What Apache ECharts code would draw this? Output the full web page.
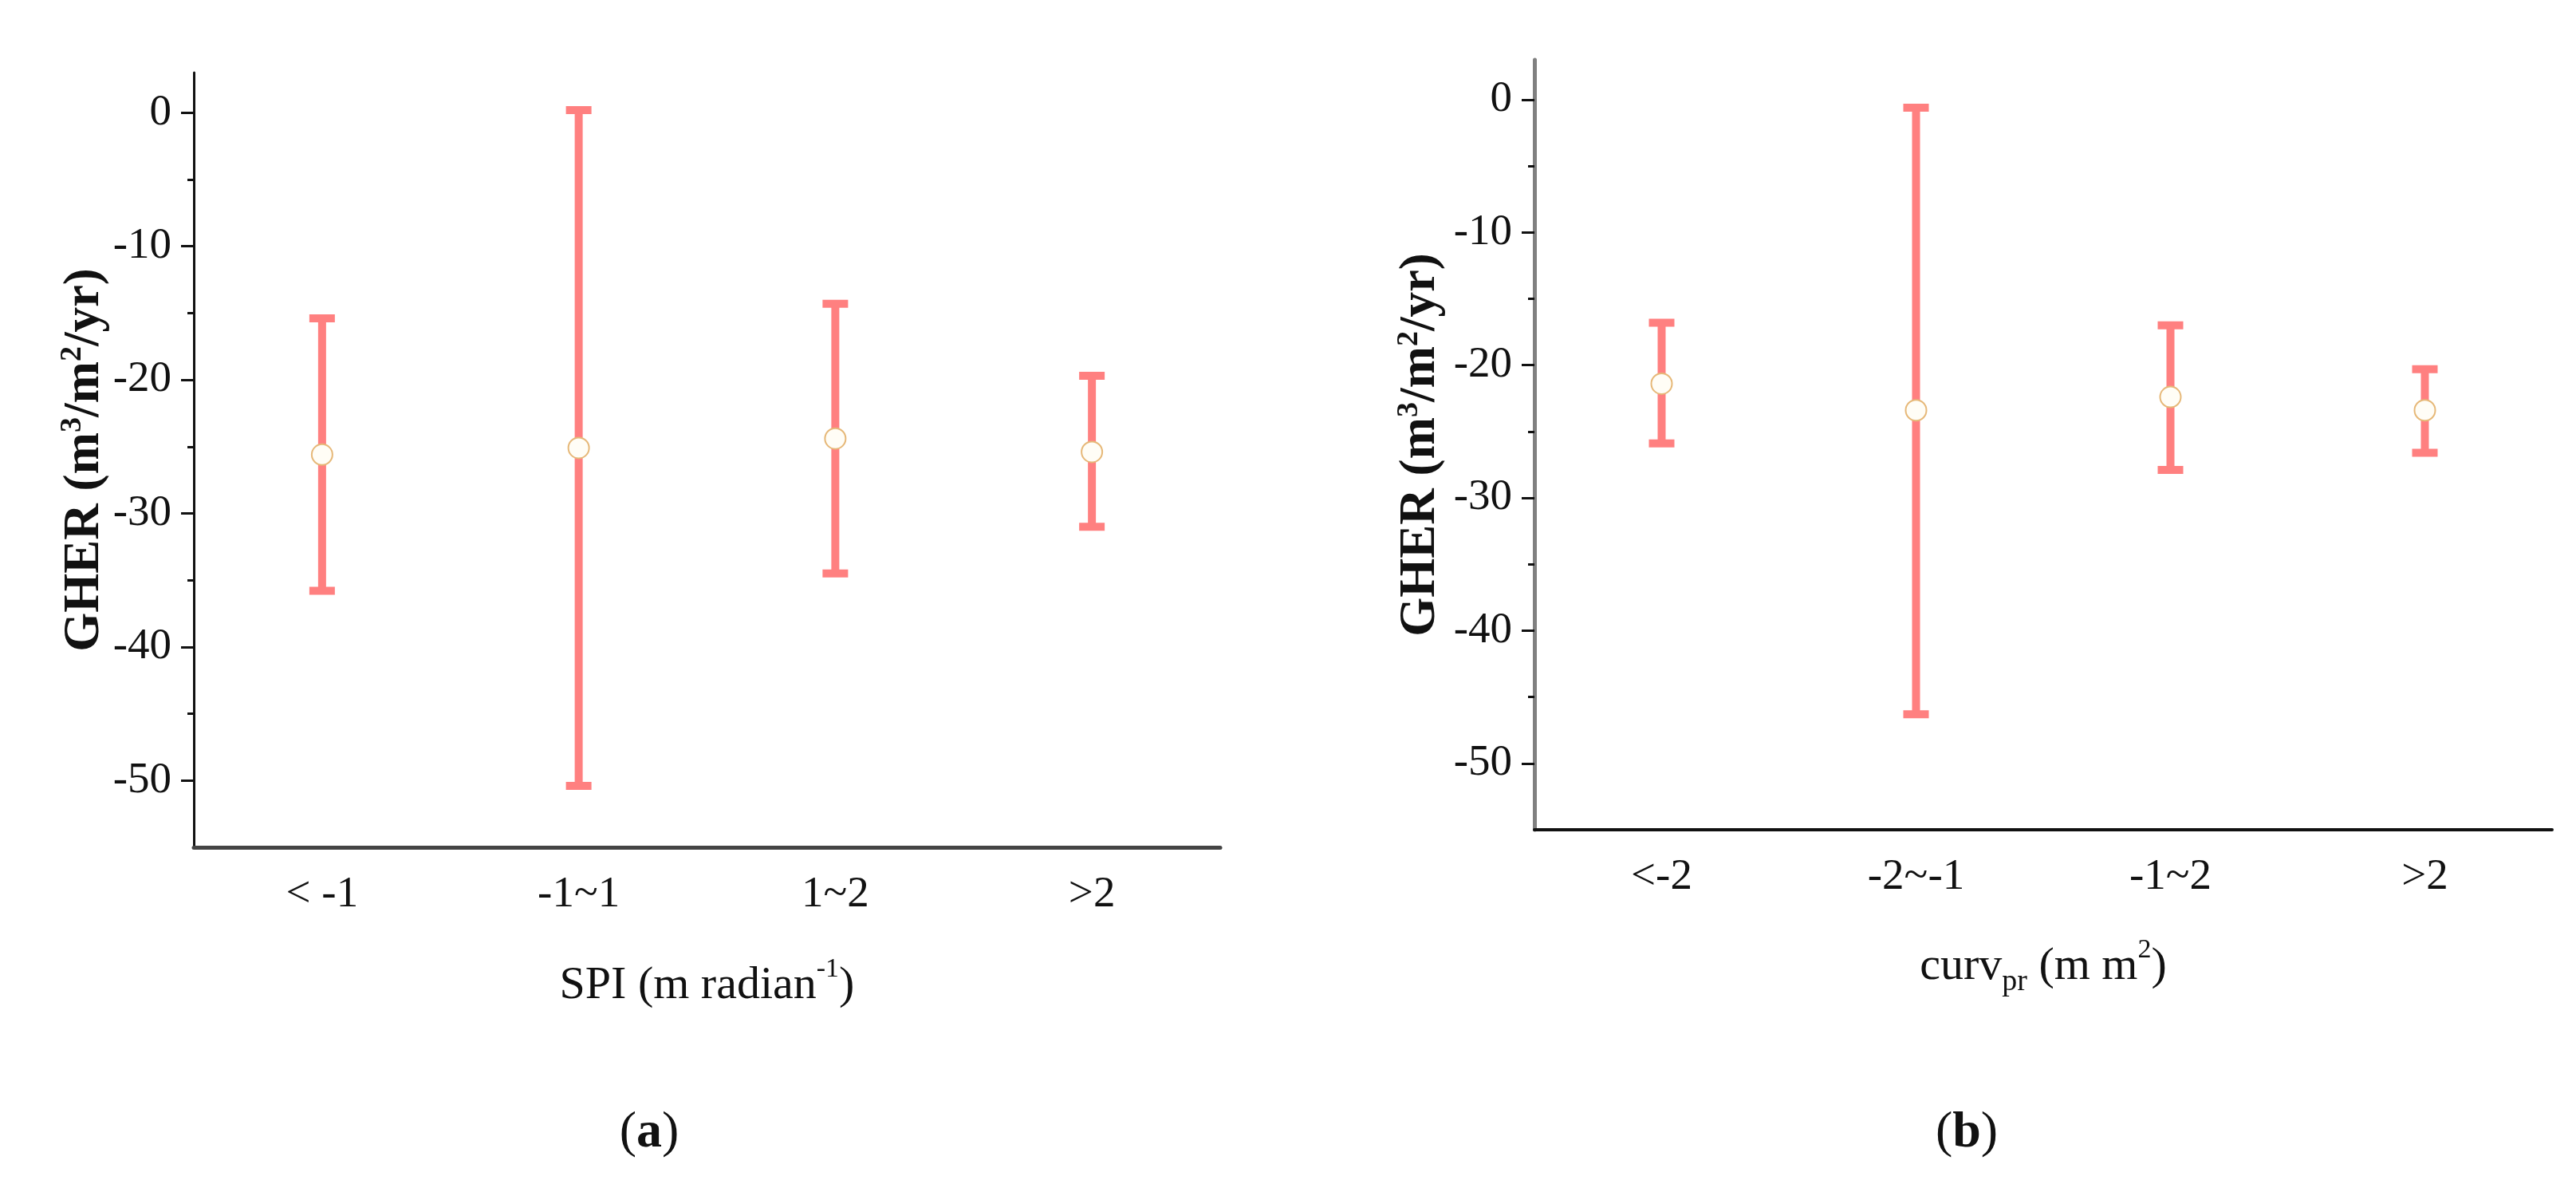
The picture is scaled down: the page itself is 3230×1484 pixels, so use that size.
<!DOCTYPE html>
<html>
<head>
<meta charset="utf-8">
<title>GHER by SPI and curvature class</title>
<script src="https://cdn.jsdelivr.net/npm/echarts@6/dist/echarts.min.js"></script>
<style>
    html, body { margin: 0; padding: 0; background: #fff; }
    #chart { width: 3230px; height: 1484px; }
</style>
</head>
<body>
<div id="chart"></div>
<script>
// panel (a): SPI classes
let spi_cats = ['< -1', '-1~1', '1~2', '>2']
let spi_mean = [-25.6, -25.1, -24.4, -25.4]
let spi_upper = [-15.4, 0.2, -14.3, -19.7]
let spi_lower = [-35.8, -50.4, -34.5, -31.0]

// panel (b): profile curvature classes
let curv_cats = ['<-2', '-2~-1', '-1~2', '>2']
let curv_mean = [-21.4, -23.4, -22.4, -23.4]
let curv_upper = [-16.8, -0.6, -17.0, -20.3]
let curv_lower = [-25.9, -46.3, -27.9, -26.6]

// y axis ticks
let y_major = [0, -10, -20, -30, -40, -50]
let y_minor = [-5, -15, -25, -35, -45]
let y_min = -55
let y_max = 3

let serif = '"Liberation Serif", "DejaVu Serif", serif'
let bar_color = '#ff8080'

let grids = [
    {left: 243, top: 91, width: 1287, height: 971},
    {left: 1924, top: 75, width: 1276, height: 965}
]

let chart = echarts.init(document.getElementById('chart'));

function main_x_axis(idx, cats, line_color, line_width, name, name_gap) {
    return {
        type: 'category',
        gridIndex: idx,
        data: cats,
        position: 'bottom',
        boundaryGap: true,
        axisLine: {onZero: false, lineStyle: {color: line_color, width: line_width}},
        axisTick: {alignWithLabel: true, length: 14, lineStyle: {color: '#222', width: 3}},
        axisLabel: {margin: 32, fontFamily: serif, fontSize: 55, color: '#111'},
        splitLine: {show: false},
        name: name,
        nameLocation: 'middle',
        nameGap: name_gap,
        nameTextStyle: {
            fontFamily: serif, color: '#111',
            rich: {
                t: {fontFamily: serif, fontSize: 58, lineHeight: 76, color: '#111'},
                sup: {fontFamily: serif, fontSize: 34, lineHeight: 40, verticalAlign: 'top', color: '#111'},
                sub: {fontFamily: serif, fontSize: 38, lineHeight: 34, verticalAlign: 'bottom', color: '#111'}
            }
        }
    }
}

// second category axis only for the short ticks on the class boundaries
function boundary_x_axis(idx, cats) {
    return {
        type: 'category',
        gridIndex: idx,
        data: cats,
        position: 'top',
        offset: -grids[idx].height,
        boundaryGap: true,
        axisLine: {show: false, onZero: false},
        axisTick: {inside: true, length: 8, lineStyle: {color: '#222', width: 3}},
        axisLabel: {show: false},
        splitLine: {show: false}
    }
}

function main_y_axis(idx, line_color, line_width, name_gap) {
    return {
        type: 'value',
        gridIndex: idx,
        position: 'left',
        min: y_min,
        max: y_max,
        axisLine: {show: true, onZero: false, lineStyle: {color: line_color, width: line_width}},
        axisTick: {show: true, length: 16, customValues: y_major, lineStyle: {color: '#111', width: 3}},
        axisLabel: {margin: 28, customValues: y_major, fontFamily: serif, fontSize: 55, color: '#111'},
        splitLine: {show: false},
        name: '{t|GHER (m}{s|3}{t|/m}{s|2}{t|/yr)}',
        nameLocation: 'middle',
        nameGap: name_gap,
        nameTextStyle: {
            rich: {
                t: {fontFamily: serif, fontSize: 63, fontWeight: 'bold', lineHeight: 68, color: '#111'},
                s: {fontFamily: serif, fontSize: 38, fontWeight: 'bold', lineHeight: 36, verticalAlign: 'top', color: '#111'}
            }
        }
    }
}

// right-side axis pulled back onto the left edge, carries the minor ticks
function minor_y_axis(idx) {
    return {
        type: 'value',
        gridIndex: idx,
        position: 'right',
        offset: -grids[idx].width,
        min: y_min,
        max: y_max,
        axisLine: {show: false, onZero: false},
        axisTick: {show: true, inside: true, length: 8, customValues: y_minor, lineStyle: {color: '#111', width: 3}},
        axisLabel: {show: false},
        splitLine: {show: false}
    }
}

function render_error_bar(params, api) {
    let x = api.value(0)
    let lo = api.coord([x, api.value(1)])
    let hi = api.coord([x, api.value(2)])
    let half = 16
    let style = {stroke: bar_color, lineWidth: 10, fill: null}
    return {
        type: 'group',
        children: [
            {type: 'line', shape: {x1: lo[0], y1: lo[1], x2: hi[0], y2: hi[1]}, style: style},
            {type: 'line', shape: {x1: hi[0] - half, y1: hi[1], x2: hi[0] + half, y2: hi[1]}, style: style},
            {type: 'line', shape: {x1: lo[0] - half, y1: lo[1], x2: lo[0] + half, y2: lo[1]}, style: style}
        ]
    }
}

function bar_series(idx, cats, lower, upper) {
    let data = []
    for (let i = 0; i < cats.length; i++) {
        data.push([i, lower[i], upper[i]])
    }
    return {
        type: 'custom',
        xAxisIndex: idx * 2,
        yAxisIndex: idx * 2,
        renderItem: render_error_bar,
        encode: {x: 0, y: [1, 2]},
        data: data,
        z: 2
    }
}

function mean_series(idx, cats, mean) {
    let data = []
    for (let i = 0; i < cats.length; i++) {
        data.push([i, mean[i]])
    }
    return {
        type: 'scatter',
        xAxisIndex: idx * 2,
        yAxisIndex: idx * 2,
        symbol: 'circle',
        symbolSize: 26,
        itemStyle: {color: '#fffdf6', borderColor: '#e6b878', borderWidth: 2, opacity: 1},
        data: data,
        z: 5
    }
}

let spi_name = '{t|SPI (m radian}{sup|-1}{t|)}'
let curv_name = '{t|curv}{sub|pr}{t| (m m}{sup|2}{t|)}'

option = {
    backgroundColor: '#ffffff',
    animation: false,
    grid: grids.map(function (g) {
        return Object.assign({containLabel: false, outerBoundsMode: 'none'}, g)
    }),
    xAxis: [
        main_x_axis(0, spi_cats, '#444', 5, spi_name, 136),
        boundary_x_axis(0, spi_cats),
        main_x_axis(1, curv_cats, '#111', 4, curv_name, 134),
        boundary_x_axis(1, curv_cats)
    ],
    yAxis: [
        main_y_axis(0, '#111', 3, 94),
        minor_y_axis(0),
        main_y_axis(1, '#808080', 5, 108),
        minor_y_axis(1)
    ],
    graphic: [
        {
            type: 'text', x: 814, y: 1420,
            style: {
                text: '({b|a})', align: 'center', verticalAlign: 'middle',
                fontFamily: serif, fontSize: 64, fill: '#111',
                rich: {b: {fontFamily: serif, fontSize: 64, fontWeight: 'bold', fill: '#111'}}
            }
        },
        {
            type: 'text', x: 2466, y: 1420,
            style: {
                text: '({b|b})', align: 'center', verticalAlign: 'middle',
                fontFamily: serif, fontSize: 64, fill: '#111',
                rich: {b: {fontFamily: serif, fontSize: 64, fontWeight: 'bold', fill: '#111'}}
            }
        }
    ],
    series: [
        bar_series(0, spi_cats, spi_lower, spi_upper),
        mean_series(0, spi_cats, spi_mean),
        bar_series(1, curv_cats, curv_lower, curv_upper),
        mean_series(1, curv_cats, curv_mean)
    ]
};
chart.setOption(option);
</script>
</body>
</html>
